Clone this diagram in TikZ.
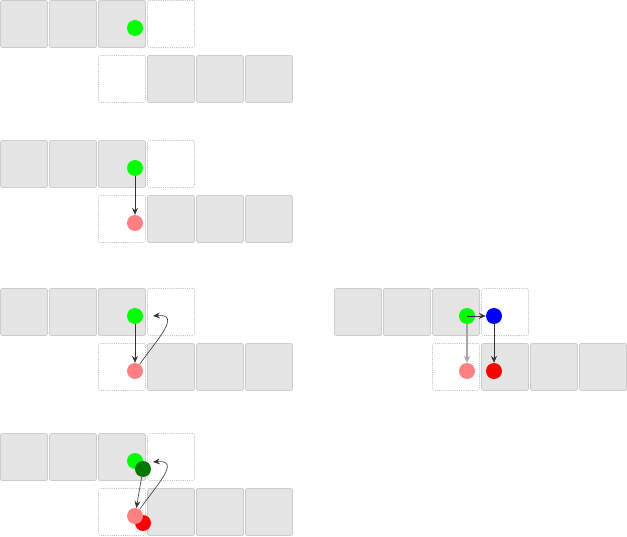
\documentclass[tikz,border=0pt]{standalone}
\usetikzlibrary{arrows.meta,positioning}
\tikzset
{
    cell/.style = {rectangle, rounded corners=2pt, draw=black!20, fill=black!10, line width=0.8pt, minimum size=47pt, inner sep=0pt},
    slot/.style = {rectangle, rounded corners=2pt, draw=black!25, dash pattern=on 1pt off 1.2pt, line width=0.6pt, minimum size=47pt, inner sep=0pt},
    dot/.style  = {circle, inner sep=0pt, minimum size=16pt},
    link/.style = {-{Stealth[length=7pt, width=6pt, inset=2.5pt]}, black!80, line width=0.6pt},
    ghost/.style = {-{Stealth[length=7pt, width=6pt, inset=2.5pt]}, black!35, line width=1.2pt}
}
\definecolor{lightred}{RGB}{255,128,128}
\definecolor{darkgreen}{RGB}{0,120,0}
% two rows of cells, #1 name, #2 x offset, #3 y offset
\newcommand{\tworows}[3]{%
    \foreach \i in {0,1,2} \node (#1t\i) [cell] at (#2+24+49*\i, #3+24) {};
    \node (#1ts) [slot] at (#2+171, #3+24) {};
    \node (#1bs) [slot] at (#2+122, #3+79) {};
    \foreach \i in {0,1,2} \node (#1b\i) [cell] at (#2+171+49*\i, #3+79) {};
}

\begin{document}
\begin{tikzpicture}[x=1pt, y=-1pt]
\useasboundingbox (0,0) rectangle (627,537);

%% first
\tworows{a}{0}{0}
\node (g1)  [dot, fill=green]      at (135,28)  {};

%% second
\tworows{b}{0}{140}
\node (g2)  [dot, fill=green]      at (135,168) {};
\node (p2)  [dot, fill=lightred]   at (135,223) {};
\draw[link] (g2) -- (p2);

%% third
\tworows{c}{0}{288}
\node (g3)  [dot, fill=green]      at (135,316) {};
\node (p3)  [dot, fill=lightred]   at (135,371) {};
\coordinate (h3) at (153,316);
\draw[link] (g3) -- (p3);
\draw[link] (p3) to[out=55, in=5, looseness=1.5] (h3);

%% fourth
\tworows{d}{0}{433}
\node (g4)  [dot, fill=green]      at (135,461) {};
\node (k4)  [dot, fill=darkgreen]  at (143,469) {};
\node (r4)  [dot, fill=red]        at (143,523) {};
\node (p4)  [dot, fill=lightred]   at (135,516) {};
\coordinate (h4) at (153,462);
\draw[link] (k4) -- (p4);
\draw[link] (p4) to[out=55, in=5, looseness=1.5] (h4);

%% right
\tworows{e}{334}{288}
\node (g5)  [dot, fill=green]      at (467,316) {};
\node (u5)  [dot, fill=blue]       at (494,316) {};
\node (p5)  [dot, fill=lightred]   at (467,371) {};
\node (r5)  [dot, fill=red]        at (494,371) {};
\draw[ghost] (g5) -- (p5);
\draw[link] (g5.center) -- (u5);
\draw[link] (u5) -- (r5);
\end{tikzpicture}
\end{document}
